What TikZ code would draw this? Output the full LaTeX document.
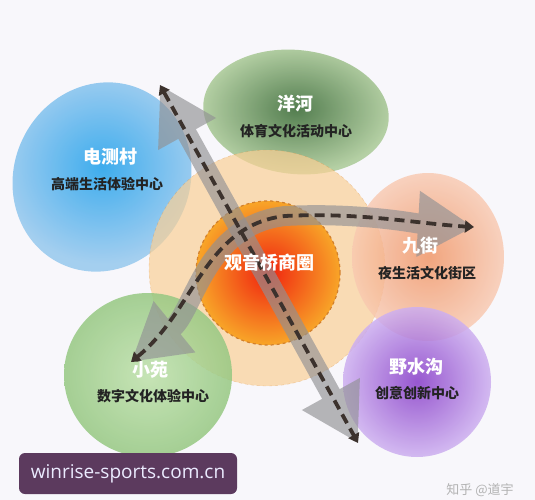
\documentclass[tikz,border=0pt]{standalone}
\usepackage{fontspec}
\newfontfamily\cjk{Noto Sans CJK SC}
\newfontfamily\wmfont{Open Sans}
\usetikzlibrary{shapes.geometric,arrows.meta}
\definecolor{bgc}{RGB}{248,247,251}
\definecolor{blueIn}{RGB}{30,160,235}
\definecolor{blueOut}{RGB}{150,200,238}
\definecolor{gtIn}{RGB}{55,105,50}
\definecolor{gtOut}{RGB}{170,202,150}
\definecolor{bigC}{RGB}{250,208,150}
\definecolor{redIn}{RGB}{240,35,15}
\definecolor{redOut}{RGB}{248,165,40}
\definecolor{orIn}{RGB}{240,145,95}
\definecolor{orOut}{RGB}{248,200,175}
\definecolor{puIn}{RGB}{135,60,200}
\definecolor{puOut}{RGB}{205,175,240}
\definecolor{gbIn}{RGB}{190,225,170}
\definecolor{gbOut}{RGB}{150,200,130}
\definecolor{shaftc}{RGB}{145,145,148}
\definecolor{dashc}{RGB}{60,50,45}
\definecolor{wmbg}{RGB}{92,58,94}
\definecolor{subc}{RGB}{35,35,35}
\tikzset{
  blob/.style={ellipse, inner sep=0pt, shading=radial, fill opacity=0.85},
  title/.style={font=\cjk\bfseries\fontsize{18}{20}\selectfont, text=white},
  sub/.style={font=\cjk\bfseries\fontsize{14}{16}\selectfont, text=subc},
  shaft/.style={draw=shaftc, line width=20pt},
  bighead/.tip={Triangle[length=56pt,width=62pt]},
  dline/.style={draw=dashc, line width=3.8pt, dash pattern=on 10pt off 6pt},
  smallhead/.tip={Triangle[length=9pt,width=12pt]}
}
\begin{document}
\begin{tikzpicture}[x=1pt,y=-1pt]
\fill[bgc] (0,0) rectangle (535,500);
\useasboundingbox (0,0) rectangle (535,500);

% blobs
\node[blob, minimum width=176pt, minimum height=192pt, rotate=-25, inner color=blueIn, outer color=blueOut] (dcB) at (102,177) {};
\node[blob, minimum width=186pt, minimum height=124pt, rotate=-6, inner color=gtIn, outer color=gtOut] (yhB) at (296,112) {};
\node[circle, minimum size=236pt, inner sep=0pt, fill=bigC, fill opacity=0.7, draw=brown!60!orange, draw opacity=0.35, dashed] (bigB) at (267,268) {};
\node[circle, minimum size=144pt, inner sep=0pt, shading=radial, inner color=redIn, outer color=redOut, draw=brown!70!orange, dashed, line width=1.2pt] (gyB) at (268,273) {};
\node[blob, minimum width=152pt, minimum height=168pt, inner color=orIn, outer color=orOut, fill opacity=0.8] (jjB) at (428,257) {};
\node[blob, minimum width=148pt, minimum height=150pt, inner color=puIn, outer color=puOut, fill opacity=0.85] (ysB) at (417,382) {};
\node[blob, minimum width=168pt, minimum height=164pt, inner color=gbIn, outer color=gbOut, fill opacity=0.85] (xyB) at (148,375) {};

% arrow end points
\coordinate (nwTip) at (160,85);
\coordinate (seTip) at (358,443);
\coordinate (swTip) at (131,362);
\coordinate (eTip) at (474,227);
\coordinate (mid) at (285,216);

% shafts
\begin{scope}[transparency group, opacity=0.65]
\draw[shaft, bighead-bighead] (nwTip) -- (seTip);
\end{scope}
\begin{scope}[transparency group, opacity=0.65]
\draw[shaft, bighead-bighead] (swTip) .. controls (195,310) and (205,225) .. (mid) .. controls (360,212) and (420,224) .. (eTip);
\end{scope}

% dashed lines
\draw[dline, smallhead-smallhead] (nwTip) -- (seTip);
\draw[dline, smallhead-smallhead] (swTip) .. controls (195,310) and (205,225) .. (mid) .. controls (360,212) and (420,224) .. (eTip);

% labels
\node[title] (dcT) at (110,157) {电测村};
\node[sub] (dcS) at (107,184) {高端生活体验中心};
\node[title] (yhT) at (295,104) {洋河};
\node[sub] (yhS) at (296,131) {体育文化活动中心};
\node[title] (gyT) at (269,263) {观音桥商圈};
\node[title] (jjT) at (420,246) {九街};
\node[sub] (jjS) at (427,273) {夜生活文化街区};
\node[title] (ysT) at (416,367) {野水沟};
\node[sub] (ysS) at (417,393) {创意创新中心};
\node[title] (xyT) at (150,370) {小苑};
\node[sub] (xyS) at (153,396) {数字文化体验中心};

% watermark
\node[fill=wmbg, rounded corners=6pt, minimum width=218pt, minimum height=41pt, inner sep=0pt, text=white!92!blue, font=\wmfont\fontsize{19}{22}\selectfont] (wm) at (128,473.5) {winrise-sports.com.cn};
\node[text=black!30, font=\cjk\fontsize{13}{15}\selectfont] (zh) at (480,490) {知乎 @道宇};
\end{tikzpicture}
\end{document}
